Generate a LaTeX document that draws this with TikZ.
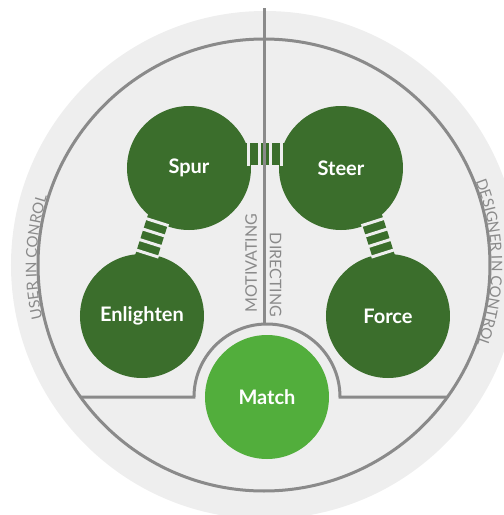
\documentclass[tikz,border=0pt]{standalone}
\usepackage{fontspec}
\setmainfont{Lato}
\usepackage{tikz}
\usetikzlibrary{calc}
\usetikzlibrary{decorations.markings}
\usetikzlibrary{decorations.text}

\definecolor{ringgray}{HTML}{8A8A8A}
\definecolor{bggray}{HTML}{EEEEEE}
\definecolor{darkleaf}{HTML}{3B6E2C}
\definecolor{lightleaf}{HTML}{52AE3C}

\newcommand{\sidefont}{\fontsize{15}{17}\selectfont\color{ringgray}}

\tikzset{
    stage/.style={circle, fill=darkleaf, minimum size=124pt, inner sep=0pt,
        text=white, font=\fontsize{20}{22}\selectfont\bfseries},
    divider/.style={draw=ringgray, line width=3pt},
    sidelabel/.style={text=ringgray, inner sep=0pt, font=\fontsize{16}{18}\selectfont},
    link/.style={darkleaf, line width=22pt, postaction={decorate},
        decoration={markings,
            mark=at position 0.5 with {
                \foreach \g in {-16.5,-5.5,5.5,16.5}{
                    \draw[bggray, line width=3pt] (\g pt,-12pt) -- (\g pt,12pt);
                }
            }
        }
    },
}

\begin{document}
\begin{tikzpicture}[x=1pt,y=1pt]
            \useasboundingbox (-265,-250) rectangle (239,265);
            \clip (-265,-250) rectangle (239,265); % circle runs off right and bottom
            \fill[bggray] (0,0) circle (254);
            \draw[divider] (-1,0) circle (226);
            \draw[divider] (-184.4,-132) -- (-71,-132)
                arc[start angle=180, end angle=0, radius=73] -- (182.4,-132);

            % the five stages
            \node[stage] (spur) at (-76,97) {Spur};
            \node[stage] (steer) at (76,97) {Steer};
            \node[stage] (enlighten) at (-123,-51) {Enlighten};
            \node[stage] (force) at (123,-51) {Force};
            \node[stage, fill=lightleaf] (match) at (2,-132) {Match};

            % striped links, pushed to the outside
            \draw[link] ($(spur.center)!50pt!(steer.center)!14pt!90:(steer.center)$)
                -- ($(steer.center)!50pt!(spur.center)!14pt!-90:(spur.center)$);
            \draw[link] ($(enlighten.center)!50pt!(spur.center)!14pt!90:(spur.center)$)
                -- ($(spur.center)!50pt!(enlighten.center)!14pt!-90:(enlighten.center)$);
            \draw[link] ($(steer.center)!50pt!(force.center)!14pt!90:(force.center)$)
                -- ($(force.center)!50pt!(steer.center)!14pt!-90:(steer.center)$);

            \draw[divider] (0,257) -- (0,-59);

            \node[sidelabel, rotate=90, anchor=base] (motivating) at (-8,2) {MOTIVATING};
            \node[sidelabel, rotate=-90, anchor=base] (directing) at (5,-10) {DIRECTING};

            % labels along the ring
            \begin{scope}[shift={(-1,0)}]
                \path[decorate, decoration={text along path, text align=center,
                    text={|\sidefont|USER IN CONROL}}]
                    (198:227.5) arc[start angle=198, end angle=158, radius=227.5];
                \path[decorate, decoration={text along path, text align=center,
                    text={|\sidefont|DESIGNER IN CONTROL}}]
                    (35:227.5) arc[start angle=35, end angle=-34, radius=227.5];
            \end{scope}
\end{tikzpicture}
\end{document}
